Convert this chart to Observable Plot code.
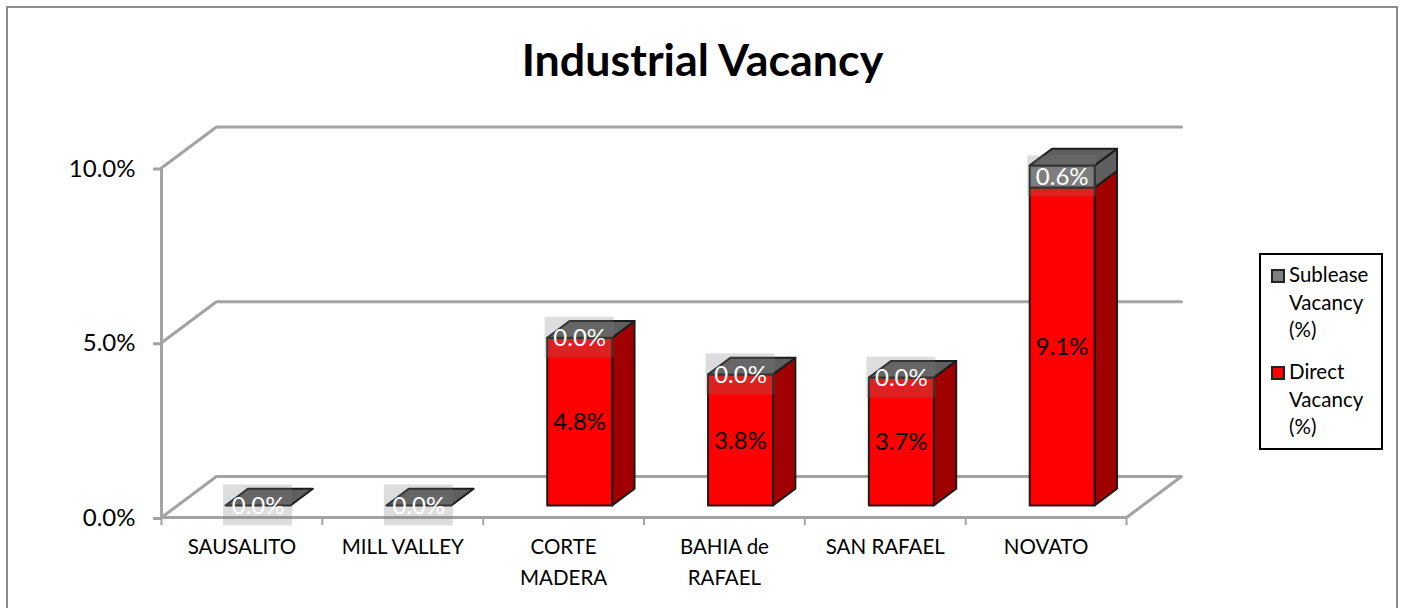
<!DOCTYPE html>
<html><head><meta charset="utf-8">
<script src="https://cdn.jsdelivr.net/npm/d3@7"></script>
<script src="https://cdn.jsdelivr.net/npm/@observablehq/plot@0.6"></script>
<style>
html,body{margin:0;padding:0;background:#fff;overflow:hidden}
body{width:1401px;height:608px;position:relative;font-family:Lato,sans-serif;color:#000}
#frame{position:absolute;left:6px;top:6px;width:1392px;height:610px;border:2px solid #8c8c8c;box-sizing:border-box}
#title{position:absolute;left:0;top:30px;width:1405px;text-align:center;font-weight:700;font-size:44.8px;line-height:58px}
#plot{position:absolute;left:0;top:100px}
#legend{position:absolute;left:1259px;top:253px;width:124px;height:197px;border:2px solid #000;box-sizing:border-box;background:#fff;font-size:20.5px;line-height:27.7px}
.it{position:absolute;left:28px}
.sw{position:absolute;left:10px;width:14px;height:14px;border:2px solid #222;box-sizing:border-box}
</style></head><body>
<div id="frame"></div>
<div id="title">Industrial Vacancy</div>
<div id="plot"></div>
<div id="legend">
<div class="sw" style="top:14px;background:#7f7f7f"></div><div class="it" style="top:6px">Sublease<br>Vacancy<br>(%)</div>
<div class="sw" style="top:111px;background:#ff0000"></div><div class="it" style="top:103px">Direct<br>Vacancy<br>(%)</div>
</div>
<script>
const categories = ["SAUSALITO","MILL VALLEY","CORTE\nMADERA","BAHIA de\nRAFAEL","SAN RAFAEL","NOVATO"];
const direct   = [0, 0, 4.8, 3.75, 3.66, 9.1];
const sublease = [0, 0, 0, 0, 0, 0.63];
const yTicks = [0, 5, 10];

// oblique projection: depth 0 = front of the floor, depth 1 = back wall
const depthX = 0.3416, depthY = 1.173;
const barFront = 0.293, barBack = 0.70, barHalf = 0.202;
const pt = (x, v, d) => ({x: x + d * depthX, y: v + d * depthY});
const fmt = v => v.toFixed(1) + "%";

const poly = (pts, fill) => Plot.line([...pts, pts[0]], {
  x: "x", y: "y", fill, stroke: "#1c1c1c", strokeWidth: 2, strokeLinejoin: "round", curve: "linear"
});
const GRID = "#a3a3a3";
const wall = pts => Plot.line(pts, {x: "x", y: "y", stroke: GRID, strokeWidth: 3, strokeLinejoin: "round", strokeMiterlimit: 4});

const marks = [];
// walls and floor
for (const t of yTicks) marks.push(wall([pt(0, t, 0), pt(0, t, 1), pt(6, t, 1), ...(t === 0 ? [pt(6, t, 0), pt(0, t, 0)] : [])]));
marks.push(wall([pt(0, 0, 0), pt(0, 10, 0)]));
// bars
categories.forEach((c, i) => {
  const cx = i + 0.5, l = cx - barHalf, r = cx + barHalf;
  const a = direct[i], b = a + sublease[i];
  const f = (x, v) => pt(x, v, barFront), k = (x, v) => pt(x, v, barBack);
  if (a > 0) marks.push(poly([f(r, 0), k(r, 0), k(r, a), f(r, a)], "#a00000"));
  if (b > a) marks.push(poly([f(r, a), k(r, a), k(r, b), f(r, b)], "#5f5f5f"));
  if (a > 0) marks.push(poly([f(l, 0), f(r, 0), f(r, a), f(l, a)], "#ff0000"));
  if (b > a) marks.push(poly([f(l, a), f(r, a), f(r, b), f(l, b)], "#7f7f7f"));
  marks.push(poly([f(l, b), f(r, b), k(r, b), k(l, b)], "#5f5f5f"));
});
// data labels
const rows = categories.map((c, i) => {
  const p = pt(i + 0.5, direct[i] + sublease[i] / 2, barFront);
  return {x: p.x, y: p.y, lab: fmt(sublease[i])};
});
const rowsD = categories.map((c, i) => {
  const p = pt(i + 0.5, direct[i] / 2, barFront);
  return {x: p.x, y: p.y, v: direct[i], lab: fmt(direct[i])};
}).filter(d => d.v > 0);
marks.push(Plot.text(rowsD, {x: "x", y: "y", dy: 1, text: "lab", fill: "#000", fontSize: 24}));
marks.push(Plot.rect(rows, {
  x1: d => d.x - 0.2143, x2: d => d.x + 0.2143,
  y1: d => d.y - 0.5866, y2: d => d.y + 0.5866,
  fill: "#7d7d7d", fillOpacity: 0.26
}));
marks.push(Plot.text(rows, {x: "x", y: "y", dy: 1, text: "lab", fill: "#fff", fontSize: 24}));
// axes
marks.push(Plot.axisY({ticks: yTicks, tickFormat: fmt, tickSize: 8, tickPadding: 18, stroke: GRID, fill: "#000", strokeWidth: 3, fontSize: 24, dy: 1, label: null}));
marks.push(Plot.axisX({ticks: d3.range(7), tickFormat: () => "", tickSize: 8, stroke: GRID, strokeWidth: 2, label: null}));
marks.push(Plot.text(categories, {x: (d, i) => i + 0.5, frameAnchor: "bottom", dy: 15, text: d => d, lineAnchor: "top", lineHeight: 1.5, fontSize: 20.5, fill: "#000"}));

const chart = Plot.plot({
  width: 1401, height: 500,
  marginLeft: 161, marginRight: 275, marginTop: 67.5, marginBottom: 83,
  x: {type: "linear", domain: [0, 6]},
  y: {type: "linear", domain: [0, 10]},
  style: {fontFamily: "Lato, sans-serif", background: "transparent", overflow: "visible"},
  marks
});
document.getElementById("plot").append(chart);
</script></body></html>
